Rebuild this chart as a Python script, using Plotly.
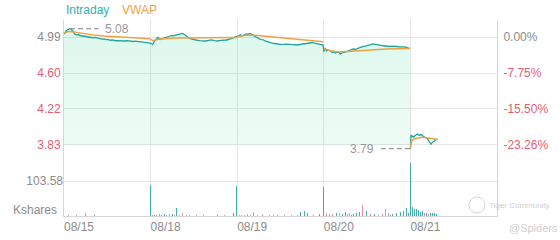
import plotly.graph_objects as go

# ---------------- data ----------------
days = ["08/15", "08/18", "08/19", "08/20", "08/21"]
SESSION = 390  # minutes per trading day

# intraday price (minute of session, price)
d1_min = [0, 5, 9, 18, 27, 36, 44, 50, 60, 66, 72, 80, 88, 96, 104, 112, 120, 130, 140, 150, 162, 171, 180, 189, 198, 210, 220, 230, 239, 250, 260, 268, 275, 285, 295, 303, 311, 320, 330, 342, 355, 362, 369, 380, 387]
d1_px = [5.020, 5.040, 5.054, 5.070, 5.079, 5.065, 5.040, 5.017, 5.012, 5.016, 5.006, 5.002, 5.000, 4.994, 4.995, 4.989, 4.990, 4.982, 4.985, 4.977, 4.974, 4.968, 4.970, 4.962, 4.963, 4.955, 4.958, 4.950, 4.952, 4.948, 4.950, 4.944, 4.947, 4.950, 4.945, 4.940, 4.942, 4.946, 4.944, 4.936, 4.938, 4.933, 4.936, 4.932, 4.928]

d2_min = [0, 9, 18, 32, 40, 45, 52, 59, 68, 77, 86, 95, 104, 113, 122, 131, 138, 144, 150, 158, 166, 176, 186, 198, 210, 221, 234, 248, 262, 275, 288, 302, 316, 329, 340, 351, 360, 369, 378, 387]
d2_px = [4.925, 4.909, 4.947, 4.985, 4.968, 4.963, 4.972, 4.979, 4.985, 4.995, 4.998, 5.006, 5.003, 5.011, 5.016, 5.022, 5.020, 5.028, 5.020, 5.006, 4.990, 4.974, 4.966, 4.958, 4.955, 4.952, 4.948, 4.947, 4.953, 4.958, 4.950, 4.947, 4.954, 4.952, 4.958, 4.963, 4.970, 4.979, 4.984, 4.990]

d3_min = [0, 8, 15, 22, 29, 35, 41, 48, 56, 62, 69, 76, 83, 92, 101, 110, 119, 128, 137, 146, 155, 166, 177, 190, 204, 220, 236, 252, 267, 280, 294, 308, 321, 330, 339, 348, 357, 366, 375, 387]
d3_px = [4.995, 5.004, 5.011, 5.002, 5.006, 5.015, 5.022, 5.018, 5.028, 5.024, 5.017, 5.000, 4.990, 4.978, 4.969, 4.962, 4.958, 4.945, 4.936, 4.932, 4.926, 4.920, 4.915, 4.912, 4.909, 4.914, 4.915, 4.908, 4.904, 4.910, 4.909, 4.918, 4.926, 4.928, 4.931, 4.925, 4.920, 4.918, 4.915, 4.904]

d4_min = [0, 5, 12, 18, 25, 32, 39, 45, 52, 59, 66, 75, 82, 88, 95, 102, 108, 115, 124, 133, 142, 151, 160, 169, 178, 187, 196, 205, 214, 223, 232, 241, 250, 259, 268, 277, 286, 295, 306, 317, 328, 340, 351, 362, 370, 376, 382, 387]
d4_px = [4.834, 4.872, 4.840, 4.850, 4.845, 4.830, 4.823, 4.832, 4.818, 4.826, 4.829, 4.807, 4.820, 4.829, 4.826, 4.834, 4.842, 4.850, 4.855, 4.861, 4.858, 4.866, 4.875, 4.883, 4.888, 4.893, 4.900, 4.909, 4.912, 4.915, 4.910, 4.909, 4.904, 4.899, 4.896, 4.893, 4.895, 4.888, 4.892, 4.893, 4.888, 4.883, 4.886, 4.883, 4.880, 4.877, 4.872, 4.866]

d5_min = [0, 3, 8, 14, 19, 23, 28, 32, 37, 41, 46, 50, 55, 59, 64, 68, 72, 77, 82, 86, 90, 93, 96, 99, 104, 108, 113, 117, 122]
d5_px = [3.790, 3.937, 3.925, 3.915, 3.926, 3.932, 3.940, 3.948, 3.940, 3.932, 3.938, 3.942, 3.930, 3.921, 3.915, 3.910, 3.902, 3.894, 3.870, 3.851, 3.842, 3.835, 3.850, 3.862, 3.868, 3.873, 3.885, 3.894, 3.884]

# VWAP per day
v1_min = [0, 20, 45, 80, 130, 180, 250, 320, 388]
v1_px = [5.030, 5.050, 5.045, 5.030, 5.012, 5.000, 4.988, 4.978, 4.972]
v2_min = [0, 10, 30, 60, 120, 200, 300, 388]
v2_px = [4.968, 4.950, 4.962, 4.972, 4.978, 4.978, 4.980, 4.985]
v3_min = [0, 40, 80, 120, 200, 280, 350, 388]
v3_px = [4.992, 5.008, 5.010, 5.000, 4.978, 4.960, 4.945, 4.938]
v4_min = [0, 30, 70, 120, 200, 280, 388]
v4_px = [4.865, 4.842, 4.830, 4.838, 4.850, 4.860, 4.866]
v5_min = [0, 5, 20, 50, 80, 100, 122]
v5_px = [3.800, 3.870, 3.900, 3.912, 3.905, 3.895, 3.890]

# volume bars (day index, minute, Kshares, up?)
vol_day = ([0] * 24 + [1] * 22 + [2] * 22 + [3] * 30 + [4] * 14)
vol_min = ([13, 20, 27, 36, 45, 56, 68, 77, 86, 97, 108, 117, 126, 138, 149, 167, 185, 207, 234, 261, 315, 347, 365, 378][:23] + [388] +
           [8, 17, 28, 39, 50, 62, 73, 84, 98, 108, 117, 130, 144, 160, 174, 206, 237, 272, 300, 332, 372, 388] +
           [10, 20, 33, 47, 60, 74, 92, 115, 130, 146, 165, 182, 213, 245, 272, 285, 296, 304, 317, 344, 371, 388] +
           [5, 12, 25, 39, 50, 57, 70, 84, 97, 106, 115, 124, 133, 147, 160, 174, 192, 210, 228, 246, 264, 277, 291, 300, 309, 327, 345, 358, 372, 381] +
           [1, 9, 18, 27, 36, 45, 54, 63, 72, 81, 90, 99, 108, 117])
vol_val = ([6, 3, 4, 5, 9, 3, 6, 4, 6, 9, 9, 3, 7, 4, 9, 23.7, 6, 4, 8, 6, 4, 9, 12, 92] +
           [4, 4, 3, 5, 4, 6, 3, 5, 6, 4, 23.7, 3, 8, 4, 3, 4, 3, 9, 4, 3, 8, 89] +
           [3, 4, 3, 5, 4, 12, 4, 6, 3, 3, 4, 4, 3, 4, 3, 12, 6, 15, 10, 3, 6, 85] +
           [5, 8, 6, 5, 4, 8, 10, 6, 12, 5, 8, 4, 6, 8, 12, 33, 15, 6, 5, 4, 6, 20, 8, 4, 5, 9, 12, 15, 25, 8] +
           [157, 27, 20, 22, 18, 12, 14, 8, 10, 6, 9, 8, 10, 7])
vol_up = ([0, 0, 0, 0, 0, 0, 0, 1, 1, 0, 0, 0, 0, 1, 0, 0, 0, 1, 0, 0, 1, 1, 1, 1] +
          [0, 1, 0, 0, 1, 1, 0, 0, 1, 0, 1, 0, 0, 0, 0, 0, 0, 1, 1, 0, 1, 1] +
          [0, 0, 0, 0, 0, 0, 0, 0, 0, 0, 0, 0, 0, 0, 0, 1, 1, 1, 1, 0, 1, 1] +
          [0, 0, 0, 0, 1, 1, 0, 1, 1, 0, 0, 1, 1, 1, 1, 0, 1, 0, 1, 0, 0, 0, 0, 1, 1, 1, 1, 1, 1, 1] +
          [1, 1, 1, 1, 1, 1, 1, 0, 1, 0, 1, 1, 1, 1])

price_tick_vals = [4.99, 4.6033, 4.2166, 3.8299]
price_tick_text = ["4.99", "4.60", "4.22", "3.83"]
pct_tick_text = ["0.00%", "-7.75%", "-15.50%", "-23.26%"]
vol_tick_vals = [103.58]
vol_tick_text = ["103.58"]

# ---------------- style ----------------
TEAL = "#1fa39e"
ORANGE = "#f0a044"
RED = "#e35d75"
GRAY = "#8c8c8c"
GRID = "#e6e6e6"
FONT = "Liberation Sans, Arial, sans-serif"

PRICE_RANGE = [3.0671, 5.1726]
VOL_RANGE = [0, 580]


def to_x(day, minutes):
    return [day + m / SESSION for m in minutes]


def px_x(x):
    return (x - 64) / 433


def px_y(y):
    return (216 - y) / 196


fig = go.Figure()

# baseline for fill (lowest price gridline)
base = price_tick_vals[-1]
fig.add_trace(go.Scatter(x=[0, 4], y=[base, base], mode="lines",
                         line=dict(width=0, color="rgba(0,0,0,0)"), hoverinfo="skip"))

ix = to_x(0, d1_min) + to_x(1, d2_min) + to_x(2, d3_min) + to_x(3, d4_min)
iy = d1_px + d2_px + d3_px + d4_px
fig.add_trace(go.Scatter(
    x=ix, y=iy, mode="lines", line=dict(color=TEAL, width=1.3),
    fill="tonexty",
    fillgradient=dict(type="vertical",
                      colorscale=[[0, "rgba(40,215,140,0.08)"], [1, "rgba(40,215,140,0.16)"]]),
))
fig.add_trace(go.Scatter(x=to_x(4, d5_min), y=d5_px, mode="lines",
                         line=dict(color=TEAL, width=1.3)))

vx, vy = [], []
for d, (mm, pp) in enumerate([(v1_min, v1_px), (v2_min, v2_px), (v3_min, v3_px),
                              (v4_min, v4_px), (v5_min, v5_px)]):
    vx += to_x(d, mm) + [None]
    vy += pp + [None]
fig.add_trace(go.Scatter(x=vx, y=vy, mode="lines", line=dict(color=ORANGE, width=1.5),
                         connectgaps=False))

# high / low markers
all_x = ix + to_x(4, d5_min)
all_y = iy + d5_px
hi = max(all_y)
hx = all_x[all_y.index(hi)]
lo = min(all_y)
lx = all_x[all_y.index(lo)]
fig.add_trace(go.Scatter(x=[hx, hx + 0.33], y=[hi, hi], mode="lines",
                         line=dict(color="#999", width=1.3, dash="5px,3px")))
fig.add_trace(go.Scatter(x=[lx - 0.34, lx], y=[lo, lo], mode="lines",
                         line=dict(color="#999", width=1.3, dash="5px,3px")))

# volume bars
bx = [d + m / SESSION for d, m in zip(vol_day, vol_min)]
bcol = ["rgba(31,163,158,0.85)" if u else "rgba(236,120,145,0.85)" for u in vol_up]
fig.add_trace(go.Bar(x=bx, y=vol_val, yaxis="y2", width=0.009,
                     marker=dict(color=bcol, line=dict(width=0))))

# invisible trace to instantiate right axis
fig.add_trace(go.Scatter(x=[0], y=[price_tick_vals[0]], yaxis="y3", mode="markers",
                         marker=dict(opacity=0), hoverinfo="skip"))


def colored(texts):
    out = []
    for i, t in enumerate(texts):
        c = GRAY if i == 0 else RED
        out.append(f'<span style="color:{c}">{t}</span>')
    return out


fig.update_layout(
    width=560, height=240,
    margin=dict(l=64, r=63, t=20, b=24, autoexpand=False),
    paper_bgcolor="white", plot_bgcolor="white",
    showlegend=False, bargap=0,
    font=dict(family=FONT, size=12, color=GRAY),
    xaxis=dict(range=[0, 5], tickvals=list(range(len(days))), ticktext=days,
               showgrid=True, gridcolor=GRID, gridwidth=1, zeroline=False,
               showline=True, linecolor="#d6d6d6", ticks="", ticklabelshift=15,
               automargin=False, tickfont=dict(size=12, color=GRAY)),
    yaxis=dict(range=PRICE_RANGE, tickvals=price_tick_vals, ticktext=colored(price_tick_text),
               showgrid=True, gridcolor=GRID, zeroline=False, showline=True,
               linecolor="#d6d6d6", ticks="", automargin=False, tickfont=dict(size=12)),
    yaxis2=dict(range=VOL_RANGE, overlaying="y", side="left", tickvals=vol_tick_vals,
                ticktext=vol_tick_text, showgrid=True, gridcolor=GRID, zeroline=False,
                showline=False, ticks="", automargin=False, tickfont=dict(size=12, color=GRAY)),
    yaxis3=dict(range=PRICE_RANGE, overlaying="y", side="right", tickvals=price_tick_vals,
                ticktext=colored(pct_tick_text), showgrid=False, zeroline=False,
                showline=True, linecolor="#d6d6d6", ticks="", automargin=False,
                ticklabelstandoff=3, tickfont=dict(size=12)),
)

ann = [
    dict(text="Intraday", x=0, y=px_y(10), xref="paper", yref="paper", xanchor="left",
         yanchor="middle", showarrow=False, font=dict(color="#2fb2ae", size=12)),
    dict(text="VWAP", x=px_x(120), y=px_y(10), xref="paper", yref="paper", xanchor="left",
         yanchor="middle", showarrow=False, font=dict(color=ORANGE, size=12)),
    dict(text=f"{hi:.2f}", x=hx + 0.38, y=hi, xref="x", yref="y", xanchor="left",
         yanchor="middle", showarrow=False, font=dict(color="#999", size=12)),
    dict(text=f"{lo:.2f}", x=lx - 0.40, y=lo, xref="x", yref="y", xanchor="right",
         yanchor="middle", showarrow=False, font=dict(color="#999", size=12)),
    dict(text="Kshares", x=0, xshift=-5, y=px_y(210), xref="paper", yref="paper",
         xanchor="right", yanchor="middle", showarrow=False, font=dict(color=GRAY, size=12)),
    dict(text="Tiger Community", x=px_x(487), y=px_y(205), xref="paper", yref="paper",
         xanchor="left", yanchor="middle", showarrow=False, font=dict(color="#cfcfcf", size=8)),
    dict(text="@Spiders", x=px_x(507), y=px_y(228), xref="paper", yref="paper",
         xanchor="left", yanchor="middle", showarrow=False, font=dict(color="#cfcfcf", size=11)),
]
fig.update_layout(annotations=ann)
fig.add_shape(type="circle", xref="paper", yref="paper",
              x0=px_x(469), x1=px_x(485), y0=px_y(213), y1=px_y(197),
              line=dict(color="#d8d8d8", width=1))

fig.write_html("out.html")
